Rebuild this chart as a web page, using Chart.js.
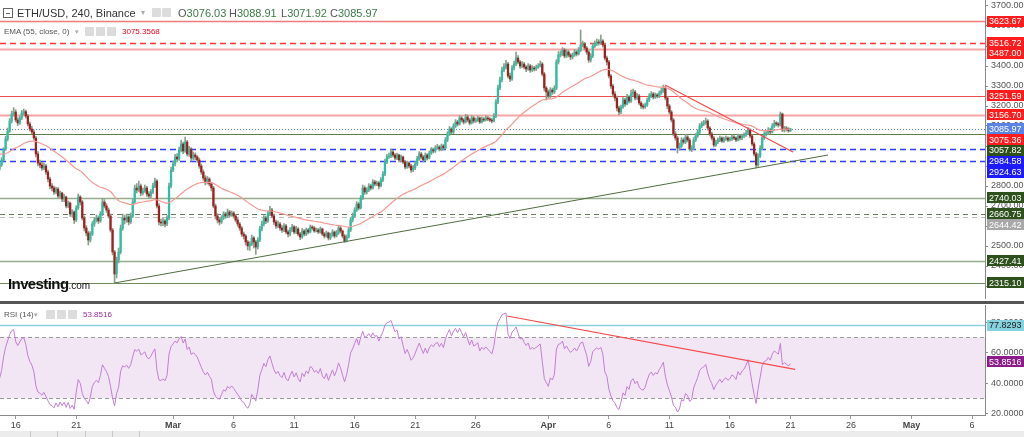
<!DOCTYPE html>
<html>
<head>
<meta charset="utf-8">
<script src="https://cdn.jsdelivr.net/npm/chart.js@4.4.1/dist/chart.umd.min.js"></script>
<style>
  body { margin: 0; background: #fff; font-family: "Liberation Sans", Arial, sans-serif; }
  #wrap { position: relative; width: 1024px; height: 437px; overflow: hidden; }
  canvas { position: absolute; left: 0; }
  #main { top: 0; }
  #rsi { top: 303px; }
  .sep { position: absolute; left: 0; top: 301px; width: 1024px; height: 3px; background: #555; }
  .foot { position: absolute; left: 0; top: 431px; width: 1024px; height: 6px; background: #ececec; }
  .fs { position: absolute; top: 431px; width: 1px; height: 6px; background: #c8c8c8; }
  .t { position: absolute; white-space: nowrap; line-height: 1; }
  .ico { position: absolute; width: 9px; height: 9px; background: #dcdcdc; border-radius: 1px; }
  .box { position: absolute; left: 3px; top: 8px; width: 8px; height: 8px; border: 1px solid #666; }
  .box:after { content: ""; position: absolute; left: 2px; top: 3.5px; width: 4px; height: 1px; background: #666; }
  .k { color: #555; }
  .g { color: #3a7a45; }
</style>
</head>
<body>
<div id="wrap">
  <canvas id="main" width="1024" height="300"></canvas>
  <canvas id="rsi" width="1024" height="128"></canvas>
  <div class="sep"></div>
  <div class="foot"></div>
  <div class="fs" style="left:30px"></div><div class="fs" style="left:57px"></div>
  <div class="fs" style="left:85px"></div><div class="fs" style="left:112px"></div>
  <div class="fs" style="left:139px"></div>

  <div class="box"></div>
  <div class="t" style="left:17px;top:8px;font-size:11px;color:#333">ETH/USD, 240, Binance</div>
  <div class="t" style="left:141px;top:9px;font-size:8px;color:#aaa">▾</div>
  <div class="ico" style="left:152px;top:8px"></div>
  <div class="ico" style="left:162px;top:8px"></div>
  <div class="t" style="left:178px;top:8px;font-size:11px"><span class="k">O</span><span class="g">3076.03</span></div>
  <div class="t" style="left:229px;top:8px;font-size:11px"><span class="k">H</span><span class="g">3088.91</span></div>
  <div class="t" style="left:281px;top:8px;font-size:11px"><span class="k">L</span><span class="g">3071.92</span></div>
  <div class="t" style="left:330px;top:8px;font-size:11px"><span class="k">C</span><span class="g">3085.97</span></div>

  <div class="t" style="left:4px;top:28px;font-size:8px;color:#555">EMA (55, close, 0)</div>
  <div class="t" style="left:75px;top:28px;font-size:7px;color:#aaa">▾</div>
  <div class="ico" style="left:85px;top:27px"></div>
  <div class="ico" style="left:96px;top:27px"></div>
  <div class="ico" style="left:107px;top:27px"></div>
  <div class="t" style="left:122px;top:28px;font-size:8px;color:#e8001c">3075.3568</div>

  <div class="t" style="left:8px;top:276px;font-size:15px;font-weight:bold;color:#111;letter-spacing:-0.6px">Investing<span style="font-size:10px;font-weight:normal;letter-spacing:0">.com</span></div>

  <div class="t" style="left:4px;top:311px;font-size:8px;color:#555">RSI (14)</div>
  <div class="t" style="left:34px;top:311px;font-size:7px;color:#aaa">▾</div>
  <div class="ico" style="left:46px;top:310px"></div>
  <div class="ico" style="left:57px;top:310px"></div>
  <div class="ico" style="left:68px;top:310px"></div>
  <div class="t" style="left:83px;top:311px;font-size:8px;color:#9b2fa3">53.8516</div>
</div>
<script>
// 4h candles; x axis counts days from Jan 31 (Feb 16 = 16, Mar 1 = 29, Apr 1 = 60, May 1 = 90)
const firstCandleDay = 14 + 16 / 24;   // Feb 14 16:00

// closes before the visible window, only used to start the RSI
const warmupCloses = [
  3010, 2985, 2950, 2930, 2945, 2920, 2935, 2910, 2900, 2925, 2915, 2890,
  2905, 2880, 2870, 2895, 2880, 2855, 2875, 2900, 2885, 2870, 2895, 2885
];

const closes = [
  2905, 2930,
  2985, 3035, 3075, 3125, 3160, 3170,
  3130, 3115, 3140, 3165, 3172, 3150,
  3110, 3085, 3070, 3040, 2960, 2915,
  2905, 2890, 2900, 2870, 2835, 2800,
  2790, 2770, 2785, 2750, 2765, 2735,
  2745, 2700, 2715, 2660, 2670, 2630,
  2690, 2745, 2720, 2640, 2590, 2565,
  2530, 2560, 2610, 2630, 2640, 2625,
  2660, 2720, 2700, 2680, 2650, 2580,
  2470, 2360, 2430, 2470, 2590, 2640,
  2630, 2645, 2620, 2650, 2720, 2790,
  2780, 2800, 2765, 2775, 2790, 2760,
  2750, 2770, 2800, 2825, 2700, 2620,
  2615, 2625, 2610, 2640, 2800, 2880,
  // March
  2910, 2945, 2935, 2980, 3010, 2975,
  3020, 2960, 2985, 2940, 2955, 2945,
  2930, 2900, 2870, 2840, 2820, 2835,
  2810, 2790, 2700, 2650, 2630, 2620,
  2640, 2660, 2650, 2670, 2655, 2665,
  2650, 2630, 2610, 2590, 2560, 2550,
  2520, 2500, 2510, 2540, 2520, 2495,
  2530, 2585, 2610, 2640, 2625, 2660,
  2680, 2650, 2620, 2600, 2610, 2590,
  2580, 2600, 2570, 2560, 2580, 2595,
  2570, 2585, 2560, 2545, 2575, 2560,
  2580, 2570, 2595, 2590, 2575, 2580,
  2570, 2585, 2560, 2550, 2565, 2540,
  2555, 2570, 2550, 2565, 2590, 2575,
  2550, 2525, 2545, 2580, 2630, 2650,
  2680, 2710, 2690, 2740, 2790, 2770,
  2780, 2800, 2790, 2820, 2810, 2815,
  2800, 2830, 2860, 2920, 2945, 2950,
  2970, 2955, 2940, 2955, 2930, 2945,
  2920, 2895, 2915, 2900, 2880, 2890,
  2910, 2935, 2960, 2945, 2930, 2955,
  2940, 2965, 2980, 2975, 2990, 2995,
  2985, 3000, 2990, 3030, 3060, 3085,
  3070, 3100, 3120, 3110, 3140, 3130,
  3120, 3145, 3130, 3115, 3140, 3125,
  3130, 3140, 3120, 3135, 3130, 3140,
  3135, 3130, 3125, 3150, 3220, 3290,
  3330, 3380, 3395, 3410, 3350, 3335,
  3390, 3410, 3440, 3420, 3400, 3410,
  3395, 3385, 3400, 3380, 3390, 3385,
  3395, 3400, 3410, 3360, 3290, 3270,
  // April
  3250, 3280, 3270, 3290, 3420, 3455,
  3460, 3480, 3450, 3470, 3455, 3445,
  3455, 3470, 3460, 3480, 3505, 3510,
  3490, 3470, 3430, 3450, 3500, 3510,
  3520, 3515, 3525, 3505, 3440, 3420,
  3350, 3300, 3260, 3240, 3190, 3170,
  3195, 3230, 3210, 3245, 3225, 3260,
  3270, 3240, 3250, 3215, 3200, 3195,
  3205, 3230, 3250, 3260, 3245, 3255,
  3250, 3265, 3275, 3290, 3240, 3200,
  3170, 3130, 3060, 3040, 2990, 3000,
  3030, 3020, 3045, 3030, 2985, 2990,
  3030, 3050, 3070, 3100, 3110, 3115,
  3125, 3090, 3060, 3040, 3005, 3020,
  3030, 3040, 3025, 3035, 3040, 3030,
  3035, 3045, 3040, 3030, 3050, 3040,
  3050, 3055, 3065, 3080, 3050, 3010,
  2960, 2905, 2950, 2990, 3040, 3060,
  3065, 3080, 3070, 3100, 3115, 3110,
  3105, 3160, 3080, 3090, 3085, 3076,
  3085.97
];

const highs = [
  2915, 2942,
  2992, 3048, 3090, 3138, 3175, 3192,
  3182, 3142, 3150, 3178, 3185, 3180,
  3158, 3120, 3098, 3080, 3048, 2972,
  2930, 2918, 2915, 2908, 2880, 2845,
  2812, 2800, 2795, 2792, 2775, 2770,
  2758, 2750, 2725, 2720, 2682, 2676,
  2702, 2760, 2752, 2728, 2650, 2602,
  2575, 2572, 2622, 2642, 2655, 2650,
  2672, 2738, 2732, 2712, 2690, 2660,
  2588, 2478, 2445, 2490, 2605, 2660,
  2655, 2660, 2652, 2665, 2735, 2805,
  2812, 2825, 2810, 2790, 2805, 2798,
  2772, 2782, 2815, 2840, 2832, 2712,
  2635, 2640, 2632, 2652, 2815, 2895,
  2925, 2958, 2962, 2995, 3030, 3020,
  3045, 3028, 2998, 2992, 2970, 2965,
  2952, 2940, 2910, 2880, 2852, 2848,
  2842, 2818, 2798, 2710, 2662, 2642,
  2652, 2672, 2668, 2685, 2678, 2675,
  2672, 2658, 2640, 2618, 2598, 2570,
  2558, 2528, 2522, 2555, 2548, 2528,
  2542, 2598, 2625, 2652, 2650, 2675,
  2698, 2688, 2660, 2630, 2625, 2618,
  2602, 2612, 2608, 2580, 2592, 2608,
  2602, 2598, 2592, 2568, 2588, 2582,
  2590, 2588, 2605, 2602, 2598, 2590,
  2588, 2595, 2590, 2568, 2575, 2570,
  2565, 2582, 2575, 2578, 2602, 2598,
  2580, 2558, 2555, 2592, 2642, 2665,
  2692, 2722, 2718, 2752, 2805, 2800,
  2792, 2812, 2808, 2832, 2828, 2825,
  2822, 2842, 2872, 2935, 2958, 2965,
  2985, 2978, 2962, 2965, 2960, 2955,
  2950, 2928, 2925, 2922, 2908, 2902,
  2922, 2948, 2972, 2968, 2952, 2965,
  2962, 2975, 2992, 2990, 3002, 3008,
  3002, 3010, 3008, 3042, 3072, 3098,
  3092, 3112, 3132, 3128, 3152, 3148,
  3138, 3158, 3155, 3138, 3152, 3148,
  3140, 3150, 3145, 3145, 3142, 3152,
  3148, 3142, 3138, 3162, 3232, 3305,
  3345, 3395, 3412, 3428, 3418, 3365,
  3402, 3425, 3470, 3452, 3428, 3422,
  3418, 3402, 3412, 3408, 3402, 3398,
  3405, 3412, 3425, 3418, 3368, 3298,
  3280, 3292, 3290, 3302, 3432, 3472,
  3475, 3492, 3488, 3482, 3478, 3462,
  3465, 3482, 3478, 3492, 3580, 3525,
  3518, 3498, 3478, 3462, 3512, 3525,
  3535, 3532, 3555, 3532, 3512, 3450,
  3428, 3358, 3310, 3272, 3250, 3200,
  3205, 3242, 3238, 3258, 3252, 3280,
  3285, 3278, 3262, 3258, 3222, 3210,
  3215, 3240, 3262, 3272, 3268, 3265,
  3262, 3275, 3288, 3305, 3298, 3248,
  3208, 3178, 3138, 3072, 3048, 3015,
  3042, 3040, 3058, 3052, 3038, 3002,
  3042, 3062, 3082, 3112, 3122, 3128,
  3140, 3132, 3098, 3070, 3048, 3030,
  3040, 3050, 3046, 3045, 3050, 3046,
  3044, 3055, 3052, 3046, 3060, 3058,
  3060, 3066, 3078, 3092, 3086, 3056,
  3018, 2968, 2962, 3002, 3052, 3072,
  3078, 3092, 3088, 3112, 3128, 3122,
  3118, 3170, 3165, 3098, 3098, 3092,
  3088.91
];

const lows = [
  2878, 2898,
  2925, 2978, 3025, 3068, 3115, 3150,
  3120, 3102, 3108, 3132, 3155, 3140,
  3100, 3075, 3060, 3030, 2945, 2900,
  2890, 2878, 2882, 2858, 2820, 2785,
  2775, 2758, 2762, 2740, 2742, 2722,
  2722, 2690, 2692, 2648, 2645, 2612,
  2622, 2682, 2705, 2630, 2575, 2550,
  2505, 2520, 2552, 2598, 2620, 2612,
  2618, 2652, 2690, 2668, 2640, 2570,
  2455, 2315, 2340, 2415, 2460, 2578,
  2610, 2618, 2605, 2612, 2642, 2712,
  2765, 2772, 2752, 2755, 2768, 2748,
  2738, 2742, 2762, 2792, 2690, 2605,
  2600, 2602, 2595, 2602, 2632, 2790,
  2872, 2900, 2920, 2928, 2970, 2962,
  2968, 2950, 2948, 2925, 2930, 2932,
  2918, 2888, 2858, 2828, 2805, 2810,
  2800, 2775, 2690, 2635, 2615, 2605,
  2612, 2632, 2638, 2642, 2645, 2648,
  2640, 2620, 2598, 2578, 2548, 2535,
  2505, 2480, 2478, 2502, 2490, 2458,
  2485, 2522, 2575, 2600, 2612, 2618,
  2652, 2640, 2608, 2588, 2592, 2578,
  2568, 2572, 2560, 2545, 2550, 2572,
  2560, 2562, 2550, 2532, 2538, 2550,
  2552, 2560, 2565, 2580, 2568, 2570,
  2562, 2564, 2552, 2540, 2544, 2530,
  2532, 2548, 2540, 2545, 2558, 2565,
  2540, 2518, 2520, 2540, 2572, 2620,
  2642, 2672, 2680, 2685, 2732, 2758,
  2760, 2772, 2780, 2785, 2800, 2802,
  2785, 2795, 2822, 2852, 2912, 2938,
  2942, 2945, 2930, 2932, 2920, 2922,
  2910, 2885, 2888, 2890, 2868, 2872,
  2882, 2902, 2928, 2935, 2920, 2925,
  2930, 2935, 2958, 2965, 2968, 2982,
  2975, 2978, 2980, 2985, 3022, 3052,
  3060, 3062, 3092, 3100, 3105, 3120,
  3110, 3115, 3122, 3105, 3110, 3115,
  3118, 3122, 3112, 3115, 3122, 3125,
  3126, 3122, 3115, 3120, 3142, 3212,
  3282, 3320, 3372, 3385, 3340, 3322,
  3328, 3380, 3402, 3410, 3388, 3392,
  3385, 3372, 3378, 3368, 3372, 3375,
  3378, 3388, 3395, 3350, 3275, 3230,
  3238, 3242, 3258, 3262, 3282, 3410,
  3445, 3452, 3440, 3442, 3445, 3432,
  3435, 3448, 3450, 3455, 3472, 3495,
  3480, 3458, 3418, 3420, 3442, 3492,
  3502, 3505, 3508, 3495, 3430, 3405,
  3340, 3288, 3245, 3225, 3175, 3155,
  3162, 3188, 3198, 3205, 3215, 3218,
  3252, 3230, 3232, 3205, 3188, 3185,
  3188, 3198, 3222, 3242, 3235, 3238,
  3240, 3242, 3258, 3268, 3230, 3185,
  3160, 3120, 3050, 3028, 2965, 2978,
  2992, 3010, 3012, 3020, 2975, 2972,
  2982, 3022, 3042, 3062, 3092, 3102,
  3108, 3080, 3050, 3030, 2995, 2998,
  3012, 3022, 3018, 3018, 3028, 3022,
  3024, 3028, 3032, 3022, 3025, 3030,
  3032, 3042, 3048, 3058, 3040, 3000,
  2950, 2890, 2898, 2942, 2982, 3032,
  3050, 3058, 3060, 3065, 3092, 3100,
  3095, 3100, 3072, 3070, 3075, 3068,
  3071.92
];

const emaAtStart = 2960;     // EMA(55) value at the first visible candle

const tickDays = [16, 21, 29, 34, 39, 44, 49, 54, 60, 65, 70, 75, 80, 85, 90, 95];
const tickLabels = ['16', '21', 'Mar', '6', '11', '16', '21', '26', 'Apr', '6', '11', '16', '21', '26', 'May', '6'];
const priceTicks = [2300, 2400, 2500, 2600, 2700, 2800, 2900, 3000, 3100, 3200, 3300, 3400, 3500, 3600, 3700];
const rsiTicks = [20, 40, 60, 80];

const resistanceLevels = [3623.67, 3516.72, 3487.00, 3251.59, 3156.70];
const supportLevels = [3057.82, 2740.03, 2660.75, 2427.41, 2315.10];
const blueLevels = [2984.58, 2924.63];
const greyLevels = [2644.42];
const lastClose = 3085.97;
const emaLast = 3075.3568;

const rsiBounds = [30, 70];
const rsiMarked = 77.8293;
const rsiLast = 53.8516;

// trend lines as [day, value] anchors
const greenTrend = [[24 + 4 / 24, 2315.10], [83.1, 2955]];
const redTrend = [[69.64, 3305], [80.21, 2970]];
const rsiTrend = [[56.59, 84], [80.38, 49]];

// ---------------------------------------------------------------
Chart.defaults.font.family = '"Liberation Sans", Arial, sans-serif';

const day = i => firstCandleDay + i / 6;
const allCloses = warmupCloses.concat(closes);
const opens = closes.map((c, i) => allCloses[warmupCloses.length + i - 1]);
const bodies = closes.map((c, i) => ({ x: day(i), y: [opens[i], c] }));
const wicks = closes.map((c, i) => ({ x: day(i), y: [lows[i], highs[i]] }));
const bodyColors = closes.map((c, i) => (c >= opens[i] ? '#2cbfa5' : '#a41d1d'));

const alpha = 2 / (55 + 1);
const ema = [];
closes.forEach((c, i) => ema.push(i ? ema[i - 1] + alpha * (c - ema[i - 1]) : emaAtStart));
const emaPts = ema.map((v, i) => ({ x: day(i), y: v }));

function wilderRsi(values, n) {
  const out = values.map(() => null);
  let gain = 0, loss = 0;
  for (let i = 1; i < values.length; i++) {
    const ch = values[i] - values[i - 1];
    const g = Math.max(ch, 0), l = Math.max(-ch, 0);
    if (i <= n) { gain += g / n; loss += l / n; }
    else { gain = (gain * (n - 1) + g) / n; loss = (loss * (n - 1) + l) / n; }
    if (i >= n) out[i] = loss === 0 ? 100 : 100 - 100 / (1 + gain / loss);
  }
  return out;
}
const rsiAll = wilderRsi(allCloses, 14);
const rsiPts = closes.map((c, i) => ({ x: day(i), y: rsiAll[warmupCloses.length + i] }));

const pts = arr => arr.map(([x, y]) => ({ x, y }));

const xMin = 14.703, xMax = 96.07;

// line looks: [color, width, dash]
const levelLook = {
  3623.67: ['#f07b7b', 1.5], 3516.72: ['#ff3333', 1.5, [6, 4]], 3487: ['#f6a5a5', 2],
  3251.59: ['#e94f4f', 1], 3156.7: ['#f6a5a5', 2], 3085.97: ['#5a7fe0', 1, [1, 2]],
  3057.82: ['#5d7f45', 1.2], 2984.58: ['#2f3fff', 1.3, [6, 4]], 2924.63: ['#2f3fff', 1.3, [6, 4]],
  2740.03: ['#95ad8b', 1.6], 2660.75: ['#667d58', 1.2, [5, 4]], 2644.42: ['#bcbcbc', 1.2, [5, 4]],
  2427.41: ['#95ad8b', 1.6], 2315.1: ['#6f8c62', 1.2]
};
const levelLines = [...resistanceLevels, lastClose, ...supportLevels, ...blueLevels, ...greyLevels]
  .map(v => ({ value: v, color: levelLook[v][0], width: levelLook[v][1], dash: levelLook[v][2] }));

const priceLabels = [
  ...resistanceLevels.map(v => ({ value: v, bg: '#ff1c1c' })),
  { value: lastClose, bg: '#5b83e6' },
  { value: emaLast, bg: '#ff1c1c' },
  ...supportLevels.map(v => ({ value: v, bg: '#2d501c' })),
  ...blueLevels.map(v => ({ value: v, bg: '#1c1cff' })),
  ...greyLevels.map(v => ({ value: v, bg: '#a8a8a8' }))
];

function hline(ctx, a, py, color, width, dash) {
  ctx.strokeStyle = color; ctx.lineWidth = width || 1; ctx.setLineDash(dash || []);
  const yy = Math.round(py) + 0.5;
  ctx.beginPath(); ctx.moveTo(a.left, yy); ctx.lineTo(a.right, yy); ctx.stroke();
}

function drawTags(chart, tags, gap, digits) {
  const { ctx, chartArea: a, scales: { y } } = chart;
  let prev = -Infinity;
  ctx.save();
  ctx.font = '9px "Liberation Sans", Arial, sans-serif';
  ctx.textBaseline = 'middle';
  tags.slice().sort((p, q) => q.value - p.value).forEach(t => {
    const py = Math.max(y.getPixelForValue(t.value), prev + gap);
    prev = py;
    ctx.fillStyle = t.bg;
    ctx.fillRect(a.right + 2, Math.round(py - 5.5), 37, 11);
    ctx.fillStyle = t.fg || '#fff';
    ctx.fillText(t.value.toFixed(digits), a.right + 4, Math.round(py) + 0.5);
  });
  ctx.restore();
}

const priceTags = {
  id: 'priceTags',
  beforeDatasetsDraw(chart, args, o) {
    const { ctx, chartArea: a, scales: { y } } = chart;
    ctx.save();
    o.lines.forEach(l => hline(ctx, a, y.getPixelForValue(l.value), l.color, l.width, l.dash));
    ctx.restore();
  },
  afterDraw(chart, args, o) { drawTags(chart, o.tags, 10.8, 2); }
};

const rsiBand = {
  id: 'rsiBand',
  beforeDatasetsDraw(chart, args, o) {
    const { ctx, chartArea: a, scales: { y } } = chart;
    const top = y.getPixelForValue(o.bounds[1]), bot = y.getPixelForValue(o.bounds[0]);
    ctx.save();
    ctx.fillStyle = '#f3e6f4';
    ctx.fillRect(a.left, top, a.right - a.left, bot - top);
    hline(ctx, a, top, '#9c9c9c', 1, [4, 3]);
    hline(ctx, a, bot, '#9c9c9c', 1, [4, 3]);
    hline(ctx, a, y.getPixelForValue(o.marked), '#8fd2de', 1.5);
    ctx.restore();
  },
  afterDraw(chart, args, o) {
    drawTags(chart, [
      { value: o.marked, bg: '#86d3df', fg: '#1a1a1a' },
      { value: o.last, bg: '#8a1d8a' }
    ], 10.8, 4);
  }
};

new Chart(document.getElementById('main'), {
  type: 'bar',
  data: {
    datasets: [
      { type: 'line', data: pts(greenTrend), borderColor: '#4f6d3f', borderWidth: 1, pointRadius: 0, order: 0 },
      { type: 'line', data: pts(redTrend), borderColor: '#f24a4a', borderWidth: 1.2, pointRadius: 0, order: 0 },
      { type: 'line', data: emaPts, borderColor: '#f39a93', borderWidth: 1.2, pointRadius: 0, order: 1 },
      { data: bodies, backgroundColor: bodyColors, barThickness: 1.6, minBarLength: 1, grouped: false, order: 2 },
      { data: wicks, backgroundColor: '#8aa08c', barThickness: 1, grouped: false, order: 3 }
    ]
  },
  options: {
    responsive: false,
    animation: false,
    layout: { padding: { top: 0, bottom: 2, left: 0, right: 0 }, autoPadding: false },
    plugins: {
      legend: { display: false },
      tooltip: { enabled: false },
      priceTags: { lines: levelLines, tags: priceLabels }
    },
    scales: {
      x: { type: 'linear', min: xMin, max: xMax, offset: false, display: false },
      y: {
        position: 'right', min: 2240, max: 3730,
        afterBuildTicks: s => { s.ticks = priceTicks.map(v => ({ value: v })); },
        afterFit: s => { s.width = 39; s.paddingTop = 0; s.paddingBottom = 0; },
        grid: { drawOnChartArea: false, tickLength: 3, color: '#8a8a8a' },
        border: { display: true, color: '#8a8a8a' },
        ticks: { padding: 3, color: '#555', font: { size: 9 }, callback: v => v.toFixed(2) }
      }
    }
  },
  plugins: [priceTags]
});

new Chart(document.getElementById('rsi'), {
  type: 'line',
  data: {
    datasets: [
      { data: pts(rsiTrend), borderColor: '#f24a4a', borderWidth: 1.2, pointRadius: 0, order: 0 },
      { data: rsiPts, borderColor: '#c27fd2', borderWidth: 1, pointRadius: 0, order: 1 }
    ]
  },
  options: {
    responsive: false,
    animation: false,
    layout: { padding: { top: 2, bottom: 0, left: 0, right: 0 }, autoPadding: false },
    plugins: {
      legend: { display: false },
      tooltip: { enabled: false },
      rsiBand: { bounds: rsiBounds, marked: rsiMarked, last: rsiLast }
    },
    scales: {
      x: {
        type: 'linear', min: xMin, max: xMax, offset: false,
        afterBuildTicks: s => { s.ticks = tickDays.map(v => ({ value: v })); },
        afterFit: s => { s.height = 16; s.paddingLeft = 0; s.paddingRight = 0; },
        grid: { drawOnChartArea: false, tickLength: 4, color: '#999' },
        border: { display: true, color: '#888' },
        ticks: {
          padding: 1, maxRotation: 0, autoSkip: false, color: '#444',
          font: ctx => ({ size: 9, weight: /^[A-Z]/.test(tickLabels[ctx.index] || '') ? 'bold' : 'normal' }),
          callback: (v, i) => tickLabels[i]
        }
      },
      y: {
        position: 'right', min: 19.05, max: 91.2,
        afterBuildTicks: s => { s.ticks = rsiTicks.map(v => ({ value: v })); },
        afterFit: s => { s.width = 39; s.paddingTop = 0; s.paddingBottom = 0; },
        grid: { drawOnChartArea: false, tickLength: 3, color: '#8a8a8a' },
        border: { display: true, color: '#8a8a8a' },
        ticks: { padding: 3, color: '#555', font: { size: 9 }, callback: v => v.toFixed(4) }
      }
    }
  },
  plugins: [rsiBand]
});
</script>
</body>
</html>
